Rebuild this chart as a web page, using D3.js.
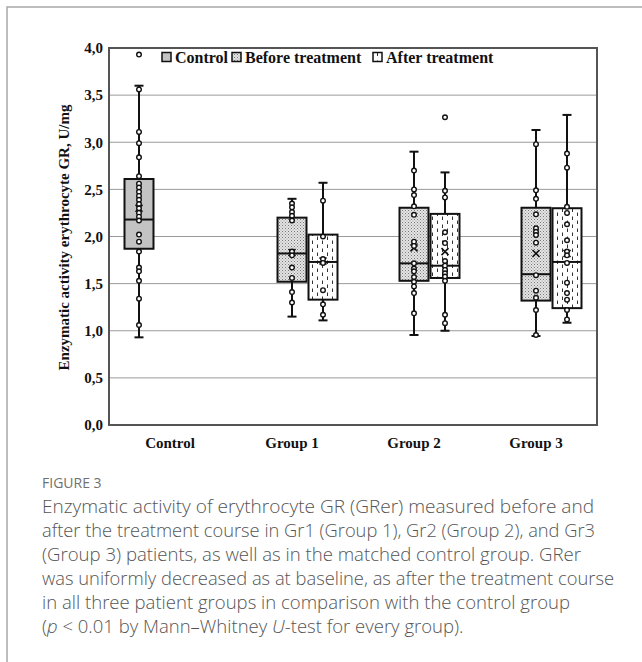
<!DOCTYPE html>
<html>
<head>
<meta charset="utf-8">
<script src="https://cdn.jsdelivr.net/npm/d3@7"></script>
<style>
  body { margin: 0; background: #fff; }
  svg { display: block; }
</style>
</head>
<body>
<svg id="chart" width="642" height="662"></svg>
<script>
// categories on the x axis and the three series
const categories = ["Control", "Group 1", "Group 2", "Group 3"];
const seriesNames = ["Control", "Before treatment", "After treatment"];

// one entry per box
const boxCategory = ["Control", "Group 1", "Group 1", "Group 2", "Group 2", "Group 3", "Group 3"];
const boxSeries = ["Control", "Before treatment", "After treatment", "Before treatment", "After treatment", "Before treatment", "After treatment"];
const q1 = [1.87, 1.52, 1.33, 1.53, 1.56, 1.32, 1.24];
const median = [2.18, 1.82, 1.73, 1.715, 1.69, 1.60, 1.73];
const q3 = [2.61, 2.20, 2.02, 2.305, 2.24, 2.305, 2.30];
const mean = [2.30, 1.83, 1.74, 1.88, 1.84, 1.82, 1.82];
const whiskerLow = [0.93, 1.15, 1.11, 0.955, 1.00, 0.944, 1.085];
const whiskerHigh = [3.60, 2.40, 2.57, 2.90, 2.68, 3.13, 3.29];
const innerPoints = [
  [3.56, 3.11, 2.99, 2.84, 2.64, 2.56, 2.52, 2.475, 2.43, 2.39, 2.345, 2.30, 2.25, 2.21, 2.17, 2.02, 1.945, 1.84, 1.67, 1.63, 1.53, 1.34, 1.06],
  [2.35, 2.31, 2.26, 2.22, 2.17, 1.84, 1.80, 1.67, 1.56, 1.41, 1.30],
  [2.38, 2.00, 1.76, 1.72, 1.43, 1.28, 1.17],
  [2.70, 2.50, 2.44, 2.32, 2.23, 1.945, 1.90, 1.715, 1.66, 1.63, 1.57, 1.52, 1.47, 1.40, 1.185],
  [2.485, 2.415, 2.045, 1.93, 1.74, 1.69, 1.645, 1.61, 1.575, 1.53, 1.17, 1.08],
  [2.98, 2.49, 2.40, 2.235, 2.087, 2.05, 2.016, 1.935, 1.59, 1.425, 1.35, 1.22, 0.955],
  [2.88, 2.73, 2.315, 2.25, 2.13, 1.96, 1.84, 1.80, 1.72, 1.51, 1.40, 1.33, 1.22, 1.12]
];
const outliers = [[3.93], [], [], [], [3.265], [], []];

const yTicks = [0, 0.5, 1, 1.5, 2, 2.5, 3, 3.5, 4];

const captionTitle = "FIGURE 3";
const captionLines = [
  "Enzymatic activity of erythrocyte GR (GRer) measured before and",
  "after the treatment course in Gr1 (Group 1), Gr2 (Group 2), and Gr3",
  "(Group 3) patients, as well as in the matched control group. GRer",
  "was uniformly decreased as at baseline, as after the treatment course",
  "in all three patient groups in comparison with the control group"
];
const captionWidths = [552, 553, 539, 572, 528];

const svg = d3.select("#chart");
const serif = "'Liberation Serif', 'Times New Roman', serif";

const plotLeft = 109, plotRight = 597, plotTop = 48, plotBottom = 425;

// outer figure frame (open on right/bottom, continues past the window)
svg.append("path")
  .attr("d", "M7,662 L7,7 L642,7")
  .attr("fill", "none")
  .attr("stroke", "#a8a8a8")
  .attr("stroke-width", 1.5);

// patterns for the box fills
const defs = svg.append("defs");
const dots = defs.append("pattern")
  .attr("id", "dots").attr("patternUnits", "userSpaceOnUse")
  .attr("width", 3).attr("height", 3);
dots.append("rect").attr("width", 3).attr("height", 3).attr("fill", "#e4e4e4");
dots.append("rect").attr("x", 0).attr("y", 0).attr("width", 1).attr("height", 1).attr("fill", "#7a7a7a");
dots.append("rect").attr("x", 1.5).attr("y", 1.5).attr("width", 1).attr("height", 1).attr("fill", "#9a9a9a");

const dashes = defs.append("pattern")
  .attr("id", "dashes").attr("patternUnits", "userSpaceOnUse")
  .attr("width", 10).attr("height", 8);
dashes.append("rect").attr("width", 10).attr("height", 8).attr("fill", "#fff");
dashes.append("line").attr("x1", 2.5).attr("x2", 2.5).attr("y1", 0.5).attr("y2", 4)
  .attr("stroke", "#333").attr("stroke-width", 1);
dashes.append("line").attr("x1", 7.5).attr("x2", 7.5).attr("y1", 4.5).attr("y2", 8)
  .attr("stroke", "#333").attr("stroke-width", 1);

const fills = { "Control": "#c3c3c3", "Before treatment": "url(#dots)", "After treatment": "url(#dashes)" };

const y = d3.scaleLinear().domain([0, 4]).range([plotBottom, plotTop]);
const x0 = d3.scaleBand().domain(categories).range([plotLeft, plotRight]).padding(0);
const x1 = d3.scaleBand().domain(seriesNames).range([0, x0.bandwidth()])
  .paddingInner(0.065).paddingOuter(0.5);

// gridlines
svg.append("g").selectAll("line")
  .data(yTicks)
  .join("line")
  .attr("x1", plotLeft).attr("x2", plotRight)
  .attr("y1", d => y(d)).attr("y2", d => y(d))
  .attr("stroke", "#9a9a9a")
  .attr("stroke-width", 1);

// y axis labels
const yAxis = svg.append("g")
  .attr("transform", `translate(${plotLeft},0)`)
  .call(d3.axisLeft(y).tickValues(yTicks).tickSize(0).tickPadding(6)
    .tickFormat(d => d.toFixed(1).replace(".", ",")));
yAxis.select(".domain").remove();
yAxis.selectAll("text")
  .attr("font-family", serif)
  .attr("font-weight", "bold")
  .attr("font-size", 15)
  .attr("fill", "#111");

// x axis labels
const xAxis = svg.append("g")
  .attr("transform", `translate(0,${plotBottom})`)
  .call(d3.axisBottom(x0).tickSize(0).tickPadding(12));
xAxis.select(".domain").remove();
xAxis.selectAll("text")
  .attr("font-family", serif)
  .attr("font-weight", "bold")
  .attr("font-size", 15)
  .attr("fill", "#111");

// y title
svg.append("text")
  .attr("transform", `translate(69,${(plotTop + plotBottom) / 2 + 1}) rotate(-90)`)
  .attr("text-anchor", "middle")
  .attr("font-family", serif)
  .attr("font-weight", "bold")
  .attr("font-size", 15)
  .attr("fill", "#111")
  .text("Enzymatic activity erythrocyte GR, U/mg");

// boxes
const boxes = d3.range(boxCategory.length).map(i => ({
  cat: boxCategory[i], ser: boxSeries[i], q1: q1[i], med: median[i], q3: q3[i],
  mean: mean[i], lo: whiskerLow[i], hi: whiskerHigh[i], pts: innerPoints[i], out: outliers[i]
}));

const bw = x1.bandwidth();
const g = svg.append("g");
boxes.forEach(b => {
  const bx = x0(b.cat) + x1(b.ser);
  const cx = bx + bw / 2;
  const gb = g.append("g");
  // whisker
  gb.append("line").attr("x1", cx).attr("x2", cx).attr("y1", y(b.hi)).attr("y2", y(b.lo))
    .attr("stroke", "#111").attr("stroke-width", 2);
  [b.hi, b.lo].forEach(v => {
    gb.append("line").attr("x1", cx - 4.5).attr("x2", cx + 4.5).attr("y1", y(v)).attr("y2", y(v))
      .attr("stroke", "#111").attr("stroke-width", 2);
  });
  // box
  gb.append("rect")
    .attr("x", bx).attr("y", y(b.q3))
    .attr("width", bw).attr("height", y(b.q1) - y(b.q3))
    .attr("fill", fills[b.ser])
    .attr("stroke", "#111").attr("stroke-width", 2);
  gb.append("line").attr("x1", bx).attr("x2", bx + bw).attr("y1", y(b.med)).attr("y2", y(b.med))
    .attr("stroke", "#111").attr("stroke-width", 2);
  // mean marker
  const my = y(b.mean);
  gb.append("path")
    .attr("d", `M${cx - 3.5},${my - 3.5}L${cx + 3.5},${my + 3.5}M${cx - 3.5},${my + 3.5}L${cx + 3.5},${my - 3.5}`)
    .attr("stroke", "#111").attr("stroke-width", 1.6);
  // points
  gb.selectAll("circle.pt")
    .data(b.pts.concat(b.out))
    .join("circle")
    .attr("class", "pt")
    .attr("cx", cx).attr("cy", d => y(d))
    .attr("r", 2.3)
    .attr("fill", "#fff")
    .attr("stroke", "#111")
    .attr("stroke-width", 1.4);
});

// plot frame
svg.append("rect")
  .attr("x", plotLeft).attr("y", plotTop)
  .attr("width", plotRight - plotLeft).attr("height", plotBottom - plotTop)
  .attr("fill", "none")
  .attr("stroke", "#555")
  .attr("stroke-width", 2);

// legend
const legendX = [162, 232, 373];
const lg = svg.append("g");
seriesNames.forEach((s, i) => {
  lg.append("rect")
    .attr("x", legendX[i]).attr("y", 52.5)
    .attr("width", 9).attr("height", 9)
    .attr("fill", fills[s])
    .attr("stroke", "#111").attr("stroke-width", 1.5);
  lg.append("text")
    .attr("x", legendX[i] + 13).attr("y", 63)
    .attr("font-family", serif)
    .attr("font-weight", "bold")
    .attr("font-size", 16)
    .attr("fill", "#111")
    .text(s);
});

// caption
const sans = "'Open Sans', 'Noto Sans', sans-serif";
svg.append("text")
  .attr("x", 42).attr("y", 488)
  .attr("font-family", sans)
  .attr("font-size", 14)
  .attr("fill", "#707070")
  .text(captionTitle);

captionLines.forEach((t, i) => {
  svg.append("text")
    .attr("x", 42).attr("y", 512.5 + i * 24)
    .attr("font-family", sans)
    .attr("font-weight", 300)
    .attr("font-size", 19)
    .attr("fill", "#555")
    .attr("textLength", captionWidths[i])
    .attr("lengthAdjust", "spacingAndGlyphs")
    .text(t);
});
const last = svg.append("text")
  .attr("x", 42).attr("y", 512.5 + 5 * 24)
  .attr("font-family", sans)
  .attr("font-weight", 300)
  .attr("font-size", 18.5)
  .attr("fill", "#555");
last.append("tspan").text("(");
last.append("tspan").attr("font-style", "italic").text("p");
last.append("tspan").text(" < 0.01 by Mann\u2013Whitney ");
last.append("tspan").attr("font-style", "italic").text("U");
last.append("tspan").text("-test for every group).");
</script>
</body>
</html>
